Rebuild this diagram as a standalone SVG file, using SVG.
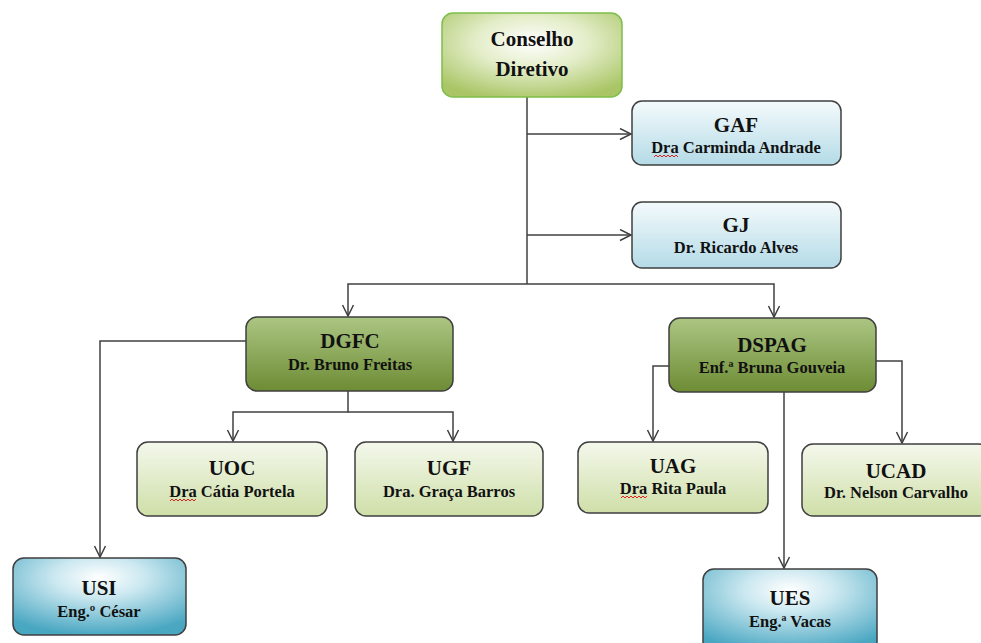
<svg xmlns="http://www.w3.org/2000/svg" width="981" height="643" viewBox="0 0 981 643">
<defs>
  <radialGradient id="gCons" cx="50%" cy="35%" r="70%">
    <stop offset="0" stop-color="#ffffff"/>
    <stop offset="0.45" stop-color="#e3edc8"/>
    <stop offset="1" stop-color="#a9c565"/>
  </radialGradient>
  <linearGradient id="gBlueLight" x1="0" y1="0" x2="0" y2="1">
    <stop offset="0" stop-color="#f4fafc"/>
    <stop offset="1" stop-color="#b4dbe7"/>
  </linearGradient>
  <linearGradient id="gOlive" x1="0" y1="0" x2="0" y2="1">
    <stop offset="0" stop-color="#acc683"/>
    <stop offset="1" stop-color="#6d8c34"/>
  </linearGradient>
  <linearGradient id="gPale" x1="0" y1="0" x2="0" y2="1">
    <stop offset="0" stop-color="#f4f8ec"/>
    <stop offset="1" stop-color="#cfdfa8"/>
  </linearGradient>
  <radialGradient id="gTeal" cx="50%" cy="25%" r="75%">
    <stop offset="0" stop-color="#ffffff"/>
    <stop offset="0.35" stop-color="#cbe8f0"/>
    <stop offset="1" stop-color="#4aa7c2"/>
  </radialGradient>
  <marker id="arr" markerUnits="userSpaceOnUse" markerWidth="14" markerHeight="14" refX="12" refY="6.5" orient="auto">
    <path d="M1,1 L12,6.5 L1,12" fill="none" stroke="#404040" stroke-width="1.5"/>
  </marker>
</defs>
<style>
  .box { stroke: #3f3f3f; stroke-width: 1.5; }
  .t { font-family: "Liberation Serif", "Times New Roman", serif; font-weight: bold; fill: #111111; text-anchor: middle; }
  .h { font-size: 21px; }
  .s { font-size: 16.5px; }
  .c { fill: none; stroke: #404040; stroke-width: 1.5; }
  .sq { fill: none; stroke: #e0201c; stroke-width: 1; }
</style>
<rect width="981" height="643" fill="#ffffff"/>

<g id="connectors">
  <path class="c" d="M527,97 V284"/>
  <path class="c" d="M527,134 H631" marker-end="url(#arr)"/>
  <path class="c" d="M527,235 H631" marker-end="url(#arr)"/>
  <path class="c" d="M527,284 H348 V316" marker-end="url(#arr)"/>
  <path class="c" d="M527,284 H774 V317" marker-end="url(#arr)"/>
  <path class="c" d="M246,341 H100 V557" marker-end="url(#arr)"/>
  <path class="c" d="M348,391 V412 H233 V441" marker-end="url(#arr)"/>
  <path class="c" d="M348,412 H453 V441" marker-end="url(#arr)"/>
  <path class="c" d="M669,366 H653 V441" marker-end="url(#arr)"/>
  <path class="c" d="M876,361 H902 V443" marker-end="url(#arr)"/>
  <path class="c" d="M784,392 V568" marker-end="url(#arr)"/>
</g>

<g id="conselho">
  <rect x="442" y="13" width="180" height="84" rx="11" fill="url(#gCons)" stroke="#7cbf4a" stroke-width="1.5"/>
  <text class="t h" x="532" y="46">Conselho</text>
  <text class="t h" x="532" y="76">Diretivo</text>
</g>

<g id="gaf">
  <rect class="box" x="632" y="101" width="209" height="64" rx="10" fill="url(#gBlueLight)"/>
  <text class="t h" x="736" y="132">GAF</text>
  <text class="t s" x="736" y="153">Dra Carminda Andrade</text>
  <path class="sq" d="M654,157 l2,-2 l2,2 l2,-2 l2,2 l2,-2 l2,2 l2,-2 l2,2 l2,-2 l2,2 l2,-2 l2,2"/>
</g>

<g id="gj">
  <rect class="box" x="632" y="202" width="209" height="66" rx="10" fill="url(#gBlueLight)"/>
  <text class="t h" x="736" y="232">GJ</text>
  <text class="t s" x="736" y="253">Dr. Ricardo Alves</text>
</g>

<g id="dgfc">
  <rect class="box" x="246" y="317" width="207" height="74" rx="11" fill="url(#gOlive)"/>
  <text class="t h" x="350" y="348">DGFC</text>
  <text class="t s" x="350" y="370">Dr. Bruno Freitas</text>
</g>

<g id="dspag">
  <rect class="box" x="669" y="318" width="207" height="74" rx="11" fill="url(#gOlive)"/>
  <text class="t h" x="772" y="352">DSPAG</text>
  <text class="t s" x="772" y="373">Enf.ª Bruna Gouveia</text>
</g>

<g id="uoc">
  <rect class="box" x="137" y="442" width="190" height="74" rx="11" fill="url(#gPale)"/>
  <text class="t h" x="232" y="475">UOC</text>
  <text class="t s" x="232" y="497">Dra Cátia Portela</text>
  <path class="sq" d="M170,501 l2,-2 l2,2 l2,-2 l2,2 l2,-2 l2,2 l2,-2 l2,2 l2,-2 l2,2 l2,-2 l2,2 l2,-2"/>
</g>

<g id="ugf">
  <rect class="box" x="355" y="442" width="188" height="74" rx="11" fill="url(#gPale)"/>
  <text class="t h" x="449" y="475">UGF</text>
  <text class="t s" x="449" y="497">Dra. Graça Barros</text>
</g>

<g id="uag">
  <rect class="box" x="578" y="442" width="190" height="71" rx="11" fill="url(#gPale)"/>
  <text class="t h" x="673" y="473">UAG</text>
  <text class="t s" x="673" y="494">Dra Rita Paula</text>
  <path class="sq" d="M621,498 l2,-2 l2,2 l2,-2 l2,2 l2,-2 l2,2 l2,-2 l2,2 l2,-2 l2,2 l2,-2 l2,2 l2,-2"/>
</g>

<g id="ucad">
  <rect class="box" x="802" y="444" width="188" height="72" rx="11" fill="url(#gPale)"/>
  <text class="t h" x="896" y="478">UCAD</text>
  <text class="t s" x="896" y="498">Dr. Nelson Carvalho</text>
</g>

<g id="usi">
  <rect class="box" x="13" y="558" width="173" height="77" rx="11" fill="url(#gTeal)"/>
  <text class="t h" x="99" y="595">USI</text>
  <text class="t s" x="99" y="617">Eng.º César</text>
</g>

<g id="ues">
  <rect class="box" x="703" y="569" width="174" height="84" rx="11" fill="url(#gTeal)"/>
  <text class="t h" x="790" y="605">UES</text>
  <text class="t s" x="790" y="627">Eng.ª Vacas</text>
</g>
</svg>
